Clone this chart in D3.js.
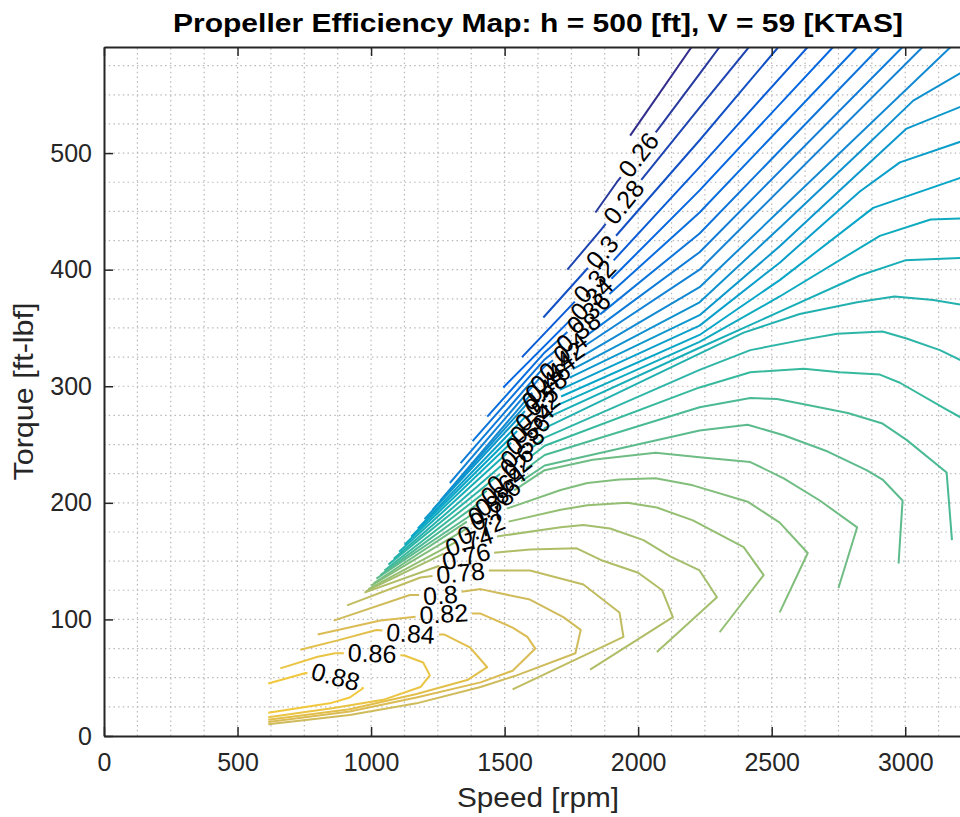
<!DOCTYPE html>
<html>
<head>
<meta charset="utf-8">
<script src="https://cdn.jsdelivr.net/npm/d3@7"></script>
<style>
body { margin: 0; background: #fff; }
text { font-family: "Liberation Sans", Arial, Helvetica, sans-serif; }
</style>
</head>
<body>
<div id="chart"></div>
<script>
// efficiency levels of the contour lines
var levels = [0.24, 0.26, 0.28, 0.30, 0.32, 0.34, 0.36, 0.38, 0.40, 0.42, 0.44,
              0.46, 0.48, 0.50, 0.52, 0.54, 0.56, 0.58, 0.60, 0.62, 0.64, 0.66,
              0.68, 0.70, 0.72, 0.74, 0.76, 0.78, 0.80, 0.82, 0.84, 0.86, 0.88];

var xTicks = [0, 500, 1000, 1500, 2000, 2500, 3000];
var yTicks = [0, 100, 200, 300, 400, 500];

// contour lines, [speed rpm, torque ft-lbf]
var c024 = [[1970,515],[2200,591]];
var c026 = [[1840,449],[1920,475],[2080,522],[2230,568],[2305,591]];
var c028 = [[1735,400],[1860,434],[2230,539],[2415,591]];
var c030 = [[1645,359],[1810,401],[2230,511],[2525,591]];
var c032 = [[1565,325],[1860,396],[2230,488],[2635,591]];
var c034 = [[1495,299],[1860,383],[2230,468],[2730,591]];
var c036 = [[1435,274],[1650,329],[2230,449],[2820,591]];
var c038 = [[1380,253],[1650,323],[2230,431],[2905,591]];
var c040 = [[1335,234],[1650,317],[2230,415],[2990,591]];
var c042 = [[1295,217],[1650,312],[2230,400],[3065,591]];
var c044 = [[1260,202],[1650,307],[2230,385],[3170,591]];
var c046 = [[1230,194],[1650,302],[2230,372],[2530,436],[2830,501],[3030,545],[3210,569]];
var c048 = [[1200,186],[1650,297],[2230,361],[2530,420],[2830,484],[3005,521],[3210,540]];
var c050 = [[1175,178],[1650,291],[2230,352],[2530,406],[2830,467],[2980,492],[3210,510]];
var c052 = [[1150,171],[1650,285],[2230,344],[2530,391],[2880,453],[3210,479]];
var c054 = [[1125,164],[1650,279],[2230,338],[2530,377],[2905,429],[3095,443],[3210,444]];
var c056 = [[1105,158],[1650,272],[2230,333],[2530,364],[2830,395],[3000,408],[3210,410]];
var c058 = [[1085,152],[1650,264],[2230,328],[2395,346],[2605,362],[2820,372],[2960,377],[3105,374],[3210,370]];
var c060 = [[1065,147],[1650,256],[2230,314],[2420,331],[2620,340],[2745,345],[2915,347],[3005,341],[3130,331],[3210,322]];
var c062 = [[1050,142],[1650,249],[2230,299],[2420,312],[2620,315],[2755,312],[2905,310],[2980,303],[3155,280],[3210,273]];
var c064 = [[1035,138],[1650,241],[2230,282],[2420,290],[2520,289],[2635,284],[2785,277],[2915,268],[3005,254],[3155,226],[3175,168]];
var c066 = [[1020,135],[1650,232],[2230,262],[2410,267],[2545,258],[2710,244],[2855,228],[2915,220],[2990,202],[2975,148]];
var c068 = [[1010,131],[1650,228],[1830,237],[2065,243],[2230,239],[2420,235],[2545,221],[2680,202],[2820,179],[2750,127]];
var c070 = [[1000,129],[1445,190],[1710,211],[1810,217],[1930,220],[2065,221],[2205,215],[2410,201],[2530,183],[2635,157],[2530,106]];
var c072 = [[990,126],[1420,179],[1710,194],[1810,198],[1960,200],[2070,196],[2205,185],[2395,162],[2470,138],[2305,89]];
var c074 = [[980,124],[1375,168],[1710,179],[1795,181],[1895,178],[2020,168],[2120,154],[2230,142],[2295,119],[2070,72]];
var c076 = [[975,123],[1365,155],[1595,160],[1770,161],[1860,151],[2000,140],[2090,125],[2130,102],[1820,57]];
var c078 = [[910,112],[1185,136],[1335,140],[1445,142],[1595,142],[1795,130],[1930,106],[1945,85],[1530,40]];
var c080 = [[860,99],[1145,121],[1260,121],[1410,126],[1595,117],[1720,102],[1785,91],[1765,71],[1545,52],[1410,42],[1170,28],[920,18],[615,10]];
var c082 = [[800,87],[1035,99],[1275,105],[1410,105],[1530,93],[1585,85],[1615,75],[1530,56],[1410,46],[1170,33],[920,21],[615,12]];
var c084 = [[735,74],[875,82],[1020,91],[1150,88],[1275,87],[1370,76],[1435,59],[1360,48],[1170,36],[920,23],[615,14]];
var c086 = [[660,58],[800,68],[865,71],[1005,71],[1125,69],[1195,63],[1220,52],[1185,42],[1045,31],[860,24],[615,16]];
var c088 = [[615,45],[755,54],[870,51],[970,41],[920,33],[845,28],[615,20]];

var contourLines = [c024, c026, c028, c030, c032, c034, c036, c038, c040, c042, c044,
                    c046, c048, c050, c052, c054, c056, c058, c060, c062, c064, c066,
                    c068, c070, c072, c074, c076, c078, c080, c082, c084, c086, c088];

// where the inline label sits, in px along each line from its start (null = no label)
var labelDist = [null, 72, 88, 88, 105, 125, 145, 152, 160, 166, 170,
                 172, 176, 178, 178, 176, 174, 170, 165, 158, 152, 146,
                 140, 135, 128, 115, 108, 119, 111, 128, 113, 94, 69];

// parula colour map
var parulaT = [0, 0.1, 0.2, 0.3, 0.4, 0.5, 0.6, 0.7, 0.8, 0.9, 1];
var parulaC = ["#352a87", "#0363e1", "#1485d4", "#06a7c6", "#38b99e", "#92bf73",
               "#d9ba56", "#fcce2e", "#f5e229", "#f6ef1d", "#f9fb0e"];

var width = 960, height = 817;
var margin = {left: 104, top: 47, right: -12, bottom: 81};
var xMax = 3250, yMax = 591;

var svg = d3.select("#chart").append("svg")
  .attr("width", width)
  .attr("height", height);

svg.append("rect").attr("width", width).attr("height", height).attr("fill", "#fff");

var x = d3.scaleLinear().domain([0, xMax]).range([margin.left, width - margin.right]);
var y = d3.scaleLinear().domain([0, yMax]).range([height - margin.bottom, margin.top]);

var parula = d3.scaleLinear().domain(parulaT).range(parulaC).interpolate(d3.interpolateRgb);
var colour = function(lv) { return parula((lv - 0.235) / (1.2 - 0.235)); };
var fmt = d3.format(".2~f");

svg.append("clipPath").attr("id", "plotclip")
  .append("rect")
  .attr("x", x(0)).attr("y", y(yMax))
  .attr("width", x(xMax) - x(0)).attr("height", y(0) - y(yMax));

// dotted grid, every minor step
var grid = svg.append("g").attr("stroke", "#b9b9b9").attr("stroke-width", 1.2)
  .attr("stroke-dasharray", "1.5,3.2");
grid.selectAll("line.gx")
  .data(d3.range(125, xMax, 125))
  .enter().append("line")
  .attr("x1", function(d) { return x(d); }).attr("x2", function(d) { return x(d); })
  .attr("y1", y(0)).attr("y2", y(yMax));
grid.selectAll("line.gy")
  .data(d3.range(25, yMax, 25))
  .enter().append("line")
  .attr("x1", x(0)).attr("x2", x(xMax))
  .attr("y1", function(d) { return y(d); }).attr("y2", function(d) { return y(d); });

// helpers to walk along a polyline
function pointAt(pts, cum, d) {
  for (var k = 1; k < pts.length; k++) {
    if (cum[k] >= d) {
      var t = (d - cum[k-1]) / ((cum[k] - cum[k-1]) || 1);
      return [pts[k-1][0] + t * (pts[k][0] - pts[k-1][0]),
              pts[k-1][1] + t * (pts[k][1] - pts[k-1][1])];
    }
  }
  return pts[pts.length - 1];
}
function slice(pts, cum, a, b) {
  var out = [pointAt(pts, cum, a)];
  for (var k = 0; k < pts.length; k++) {
    if (cum[k] > a && cum[k] < b) out.push(pts[k]);
  }
  out.push(pointAt(pts, cum, b));
  return out;
}

var line = d3.line();
var plot = svg.append("g").attr("clip-path", "url(#plotclip)");
var labels = svg.append("g");

levels.forEach(function(lv, i) {
  var pts = contourLines[i].map(function(p) { return [x(p[0]), y(p[1])]; });
  var cum = [0];
  for (var k = 1; k < pts.length; k++) {
    cum.push(cum[k-1] + Math.hypot(pts[k][0] - pts[k-1][0], pts[k][1] - pts[k-1][1]));
  }
  var total = cum[cum.length - 1];
  var pieces = [pts];
  var d = labelDist[i];
  if (d != null) {
    var lbl = labels.append("text")
      .attr("text-anchor", "middle")
      .attr("dominant-baseline", "central")
      .attr("font-size", "25px")
      .attr("fill", "#000")
      .text(fmt(lv));
    var hw = lbl.node().getComputedTextLength() / 2 + 4;
    var a = Math.max(0, d - hw), b = Math.min(total, d + hw);
    var p0 = pointAt(pts, cum, a), p1 = pointAt(pts, cum, b), pc = pointAt(pts, cum, d);
    var ang = Math.atan2(p1[1] - p0[1], p1[0] - p0[0]) * 180 / Math.PI;
    if (ang > 90) ang -= 180;
    if (ang < -90) ang += 180;
    lbl.attr("transform", "translate(" + pc[0] + "," + pc[1] + ") rotate(" + ang + ")");
    pieces = [];
    if (a > 0) pieces.push(slice(pts, cum, 0, a));
    if (b < total) pieces.push(slice(pts, cum, b, total));
  }
  pieces.forEach(function(pc) {
    plot.append("path")
      .attr("d", line(pc))
      .attr("fill", "none")
      .attr("stroke", colour(lv))
      .attr("stroke-width", 2)
      .attr("stroke-linejoin", "round");
  });
});

// axes
var axisColour = "#262626";
var gxAxis = svg.append("g")
  .attr("transform", "translate(0," + y(0) + ")")
  .call(d3.axisBottom(x).tickValues(xTicks).tickSize(-9).tickSizeOuter(0)
    .tickPadding(17).tickFormat(d3.format("d")));
var gxTop = svg.append("g")
  .attr("transform", "translate(0," + y(yMax) + ")")
  .call(d3.axisTop(x).tickValues(xTicks).tickSize(-9).tickSizeOuter(0).tickFormat(""));
var gyAxis = svg.append("g")
  .attr("transform", "translate(" + x(0) + ",0)")
  .call(d3.axisLeft(y).tickValues(yTicks).tickSize(-9).tickSizeOuter(0)
    .tickPadding(12).tickFormat(d3.format("d")));

[gxAxis, gxTop, gyAxis].forEach(function(g) {
  g.select(".domain").attr("stroke", axisColour).attr("stroke-width", 2);
  g.selectAll(".tick line").attr("stroke", axisColour).attr("stroke-width", 1.5);
  g.selectAll(".tick text")
    .attr("fill", axisColour)
    .attr("font-size", "25px")
    .attr("font-family", "Liberation Sans, Arial, sans-serif");
});

// title and axis labels
svg.append("text")
  .attr("x", 538).attr("y", 32)
  .attr("text-anchor", "middle")
  .attr("font-size", "26px")
  .attr("font-weight", "bold")
  .attr("fill", "#000")
  .attr("textLength", 730)
  .attr("lengthAdjust", "spacingAndGlyphs")
  .text("Propeller Efficiency Map: h = 500 [ft], V = 59 [KTAS]");

svg.append("text")
  .attr("x", 538).attr("y", 807)
  .attr("text-anchor", "middle")
  .attr("font-size", "28px")
  .attr("fill", axisColour)
  .attr("textLength", 162)
  .attr("lengthAdjust", "spacingAndGlyphs")
  .text("Speed [rpm]");

svg.append("text")
  .attr("transform", "translate(33," + ((y(0) + y(yMax)) / 2) + ") rotate(-90)")
  .attr("text-anchor", "middle")
  .attr("font-size", "28px")
  .attr("fill", axisColour)
  .attr("textLength", 178)
  .attr("lengthAdjust", "spacingAndGlyphs")
  .text("Torque [ft-lbf]");
</script>
</body>
</html>
